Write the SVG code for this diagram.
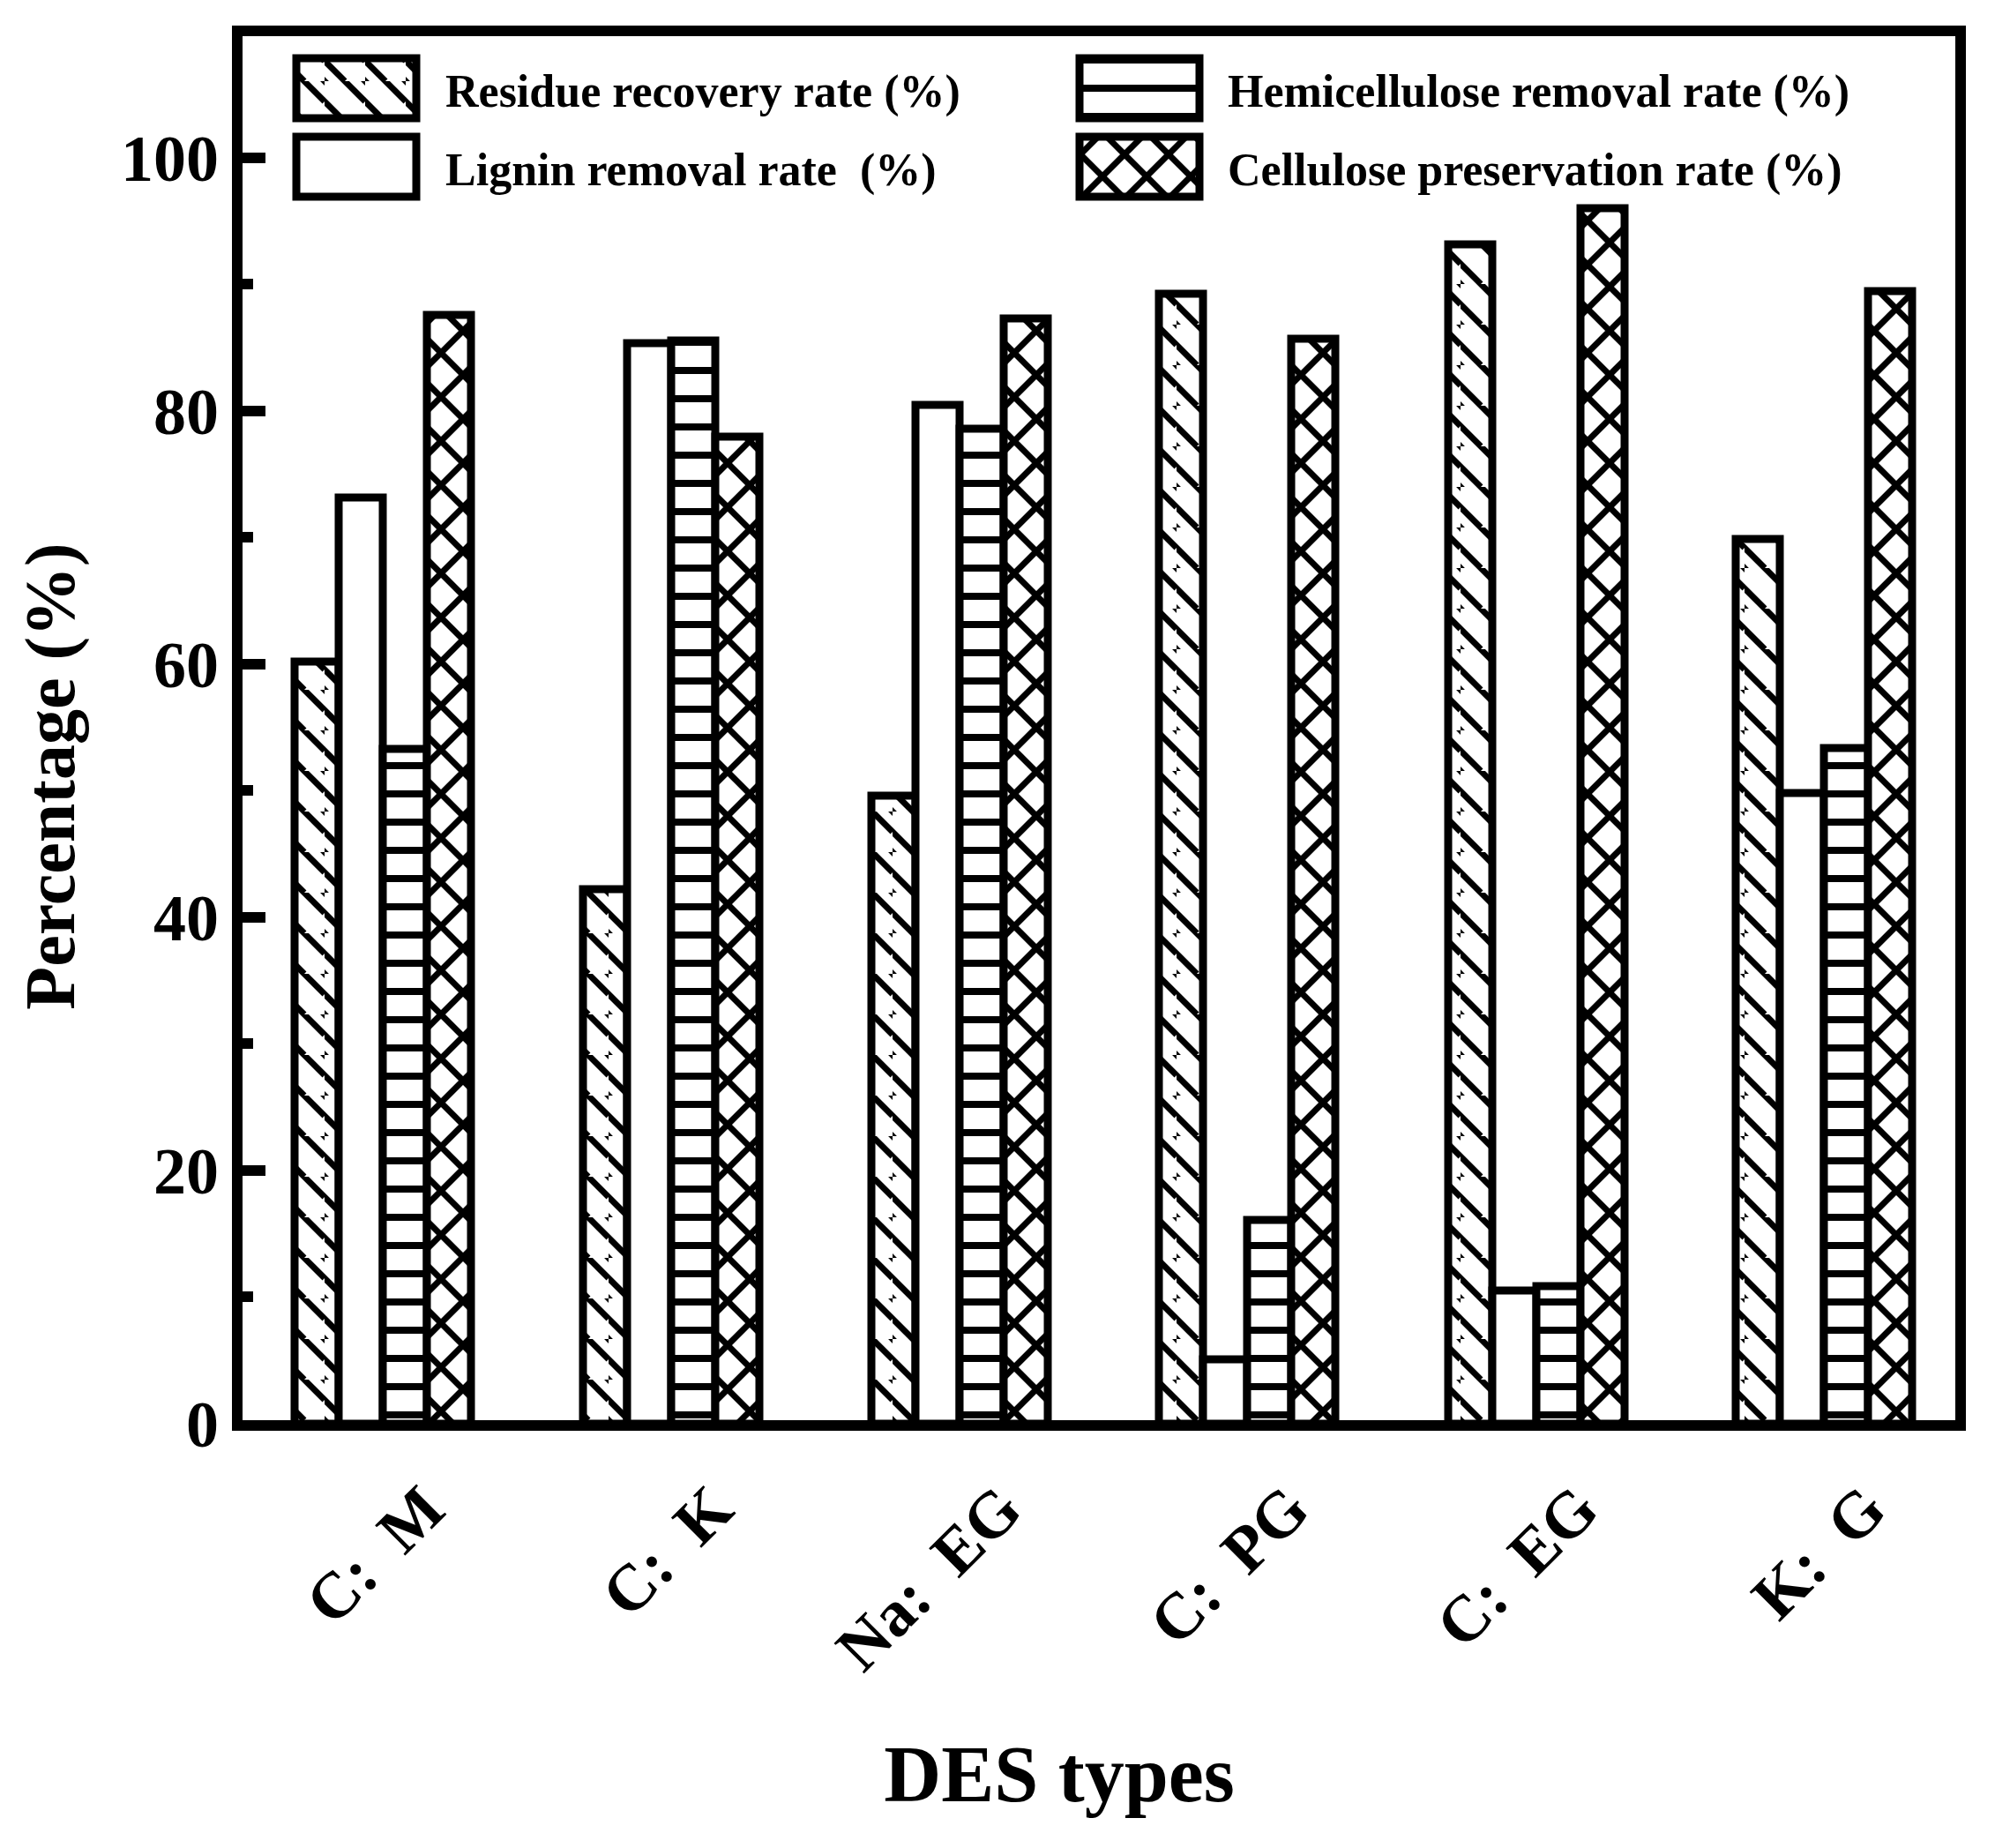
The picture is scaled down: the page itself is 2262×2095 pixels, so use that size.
<svg xmlns="http://www.w3.org/2000/svg" width="2262" height="2095" viewBox="0 0 2262 2095">
<style>
text{font-family:"Liberation Serif","Times New Roman",serif;font-weight:bold;fill:#000}
.bar{stroke:#000;stroke-width:9}
.ax{stroke:#000;stroke-width:12;fill:none}
.tk{font-size:74px;text-anchor:end}
.lg{font-size:52px}
.xl{font-size:74px;text-anchor:end}
</style>
<defs>
<pattern id="diag" patternUnits="userSpaceOnUse" width="46" height="46">
<rect width="46" height="46" fill="#fff"/>
<path d="M-23,0 L23,46 M0,-23 L46,23 M23,-23 L69,23 M-23,23 L23,69" stroke="#000" stroke-width="7"/>
</pattern>
<pattern id="horz" patternUnits="userSpaceOnUse" width="50" height="32">
<rect width="50" height="32" fill="#fff"/>
<rect y="0" width="50" height="8" fill="#000"/>
</pattern>
<pattern id="cross" patternUnits="userSpaceOnUse" width="50" height="50">
<rect width="50" height="50" fill="#fff"/>
<path d="M0,0 L50,50 M50,0 L0,50 M-25,25 L25,75 M25,-25 L75,25 M25,75 L75,25 M-25,25 L25,-25" stroke="#000" stroke-width="7"/>
</pattern>
</defs>
<rect width="2262" height="2095" fill="#fff"/>
<g id="bars">
<g id="g1">
<rect class="bar" x="334" y="750" width="50" height="864" fill="url(#diag)"/>
<rect class="bar" x="384" y="564" width="50" height="1050" fill="#fff"/>
<rect class="bar" x="434" y="849" width="50" height="765" fill="url(#horz)"/>
<rect class="bar" x="484" y="357" width="50" height="1257" fill="url(#cross)"/>
</g>
<g id="g2">
<rect class="bar" x="661" y="1008" width="50" height="606" fill="url(#diag)"/>
<rect class="bar" x="711" y="389" width="50" height="1225" fill="#fff"/>
<rect class="bar" x="761" y="386" width="50" height="1228" fill="url(#horz)"/>
<rect class="bar" x="811" y="495" width="50" height="1119" fill="url(#cross)"/>
</g>
<g id="g3">
<rect class="bar" x="988" y="902" width="50" height="712" fill="url(#diag)"/>
<rect class="bar" x="1038" y="459" width="50" height="1155" fill="#fff"/>
<rect class="bar" x="1088" y="486" width="50" height="1128" fill="url(#horz)"/>
<rect class="bar" x="1138" y="361" width="50" height="1253" fill="url(#cross)"/>
</g>
<g id="g4">
<rect class="bar" x="1314" y="333" width="50" height="1281" fill="url(#diag)"/>
<rect class="bar" x="1364" y="1541" width="50" height="73" fill="#fff"/>
<rect class="bar" x="1414" y="1383" width="50" height="231" fill="url(#horz)"/>
<rect class="bar" x="1464" y="384" width="50" height="1230" fill="url(#cross)"/>
</g>
<g id="g5">
<rect class="bar" x="1642" y="277" width="50" height="1337" fill="url(#diag)"/>
<rect class="bar" x="1692" y="1463" width="50" height="151" fill="#fff"/>
<rect class="bar" x="1742" y="1458" width="50" height="156" fill="url(#horz)"/>
<rect class="bar" x="1792" y="236" width="50" height="1378" fill="url(#cross)"/>
</g>
<g id="g6">
<rect class="bar" x="1968" y="611" width="50" height="1003" fill="url(#diag)"/>
<rect class="bar" x="2018" y="899" width="50" height="715" fill="#fff"/>
<rect class="bar" x="2068" y="848" width="50" height="766" fill="url(#horz)"/>
<rect class="bar" x="2118" y="330" width="50" height="1284" fill="url(#cross)"/>
</g>
</g>
<g id="axes">
<rect class="ax" x="269" y="35" width="1954" height="1581"/>
<path class="ax" d="M269,179 H301 M269,466 H301 M269,753 H301 M269,1040 H301 M269,1327 H301 M269,322 H287 M269,609 H287 M269,896 H287 M269,1183 H287 M269,1470 H287"/>
<text class="tk" x="248" y="205">100</text>
<text class="tk" x="248" y="492">80</text>
<text class="tk" x="248" y="779">60</text>
<text class="tk" x="248" y="1066">40</text>
<text class="tk" x="248" y="1353">20</text>
<text class="tk" x="248" y="1640">0</text>
<text x="0" y="0" font-size="80" text-anchor="middle" transform="translate(84,880) rotate(-90)">Percentage (%)</text>
<text x="1201" y="2042" font-size="90" text-anchor="middle">DES types</text>
</g>
<g id="xlabels">
<text class="xl" xml:space="preserve" transform="translate(508,1715) rotate(-45)">C:  M</text>
<text class="xl" xml:space="preserve" transform="translate(835,1715) rotate(-45)">C:  K</text>
<text class="xl" xml:space="preserve" transform="translate(1162,1715) rotate(-45)">Na:  EG</text>
<text class="xl" xml:space="preserve" transform="translate(1488,1715) rotate(-45)">C:  PG</text>
<text class="xl" xml:space="preserve" transform="translate(1816,1715) rotate(-45)">C:  EG</text>
<text class="xl" xml:space="preserve" transform="translate(2142,1715) rotate(-45)">K:  G</text>
</g>
<g id="legend">
<rect class="bar" x="336" y="66" width="136" height="68" fill="url(#diag)"/>
<rect class="bar" x="336" y="155" width="136" height="68" fill="#fff"/>
<rect class="bar" x="1224" y="66" width="136" height="68" fill="url(#horz)"/>
<rect class="bar" x="1224" y="155" width="136" height="68" fill="url(#cross)"/>
<text class="lg" x="505" y="121">Residue recovery rate (%)</text>
<text class="lg" x="505" y="210" xml:space="preserve">Lignin removal rate  (%)</text>
<text class="lg" x="1392" y="121">Hemicellulose removal rate (%)</text>
<text class="lg" x="1392" y="210">Cellulose preservation rate (%)</text>
</g>
</svg>
